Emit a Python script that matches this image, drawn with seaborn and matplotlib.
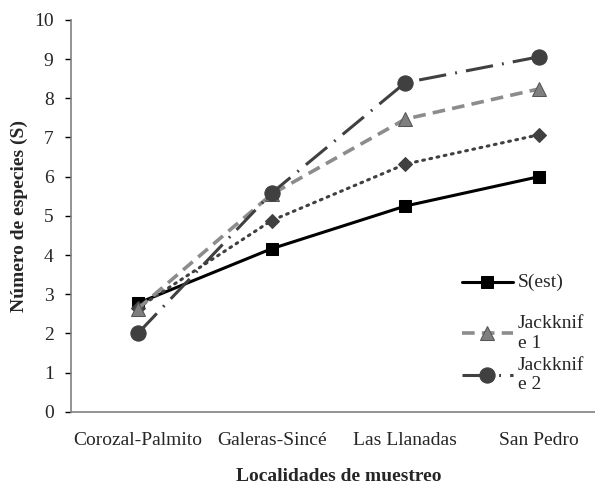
import matplotlib
matplotlib.use("Agg")
import matplotlib.pyplot as plt
import seaborn as sns

# data
sites = ["Corozal-Palmito", "Galeras-Sincé", "Las Llanadas", "San Pedro"]
s_est = [2.77, 4.16, 5.25, 6.0]
diamonds = [2.65, 4.88, 6.32, 7.07]
jack1 = [2.63, 5.55, 7.47, 8.24]
jack2 = [2.0, 5.58, 8.4, 9.06]

sns.set_style("white")
plt.rcParams["font.family"] = ["Liberation Serif", "DejaVu Serif"]

fig = plt.figure(figsize=(5.95, 4.84), dpi=100)
ax = fig.add_axes([0.1193, 0.1494, 0.899, 0.8093])

sns.lineplot(x=sites, y=s_est, ax=ax, color="black", lw=2.2, marker="s",
             markersize=8, markeredgecolor="black", label="\nS(est)\n", sort=False)
sns.lineplot(x=sites, y=diamonds, ax=ax, color="#404040", lw=2.2,
             linestyle=(0, (0.6, 1.8)), dash_capstyle="round", marker="D",
             markersize=7, markeredgecolor="#404040", legend=False, sort=False)
sns.lineplot(x=sites, y=jack1, ax=ax, color="#8c8c8c", lw=2.6,
             linestyle=(0, (3.5, 2)), marker="^", markersize=10,
             markerfacecolor="#7f7f7f", markeredgecolor="#555555",
             label="Jackknif\ne 1", sort=False)
sns.lineplot(x=sites, y=jack2, ax=ax, color="#404040", lw=2.2,
             linestyle=(0, (9, 3, 0.6, 3)), marker="o", markersize=11,
             markeredgecolor="#404040", label="Jackknif\ne 2", sort=False)

ax.set_xlim(-0.5, 3.5)
ax.set_ylim(0, 10)
ax.set_yticks(range(0, 11))
ax.tick_params(axis="y", left=True, length=4.5, width=1, color="black",
               labelsize=14, pad=8)
ax.tick_params(axis="x", bottom=False, labelsize=14, pad=11)
for side in ["top", "right"]:
    ax.spines[side].set_visible(False)
for side in ["left", "bottom"]:
    ax.spines[side].set_color("#808080")
    ax.spines[side].set_linewidth(1.2)

ax.set_xlabel("Localidades de muestreo", fontsize=14, fontweight="bold", labelpad=14)
ax.set_ylabel("Número de especies (S)", fontsize=14, fontweight="bold", labelpad=4)

ax.legend(loc="center left", bbox_to_anchor=(0.731, 0.225), frameon=False,
          fontsize=14, handlelength=2.6, handletextpad=0.26, labelspacing=0.25,
          borderpad=0, borderaxespad=0)

fig.savefig("out.png", dpi=100)
